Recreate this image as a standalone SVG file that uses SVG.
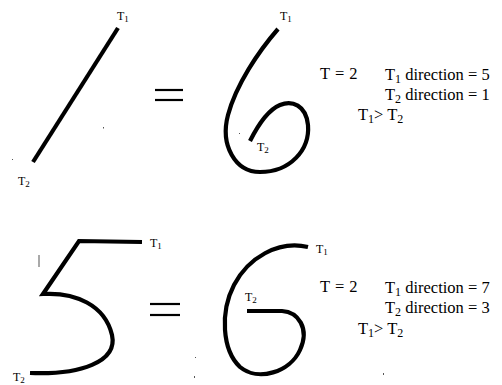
<svg xmlns="http://www.w3.org/2000/svg" width="502" height="385" viewBox="0 0 502 385">
<style>
.stroke{fill:none;stroke:#000;stroke-width:4.2;stroke-linecap:butt;stroke-linejoin:miter}
.eq{stroke:#000;stroke-width:2.2}
.lbl{font-family:"Liberation Serif","Times New Roman",serif;font-size:12px;fill:#000}
.txt{font-family:"Liberation Serif","Times New Roman",serif;font-size:16.5px;fill:#000}
.noise{fill:#555}
</style>
<rect width="502" height="385" fill="#fff"/>
<g id="digit-1">
  <path class="stroke" d="M118,28 L33,162"/>
  <text class="lbl" x="117" y="20">T<tspan dy="2" font-size="9">1</tspan></text>
  <text class="lbl" x="18" y="185">T<tspan dy="2" font-size="9">2</tspan></text>
</g>
<g id="equals-top">
  <line class="eq" x1="155" y1="90" x2="183" y2="90"/>
  <line class="eq" x1="155" y1="100" x2="183" y2="100"/>
</g>
<g id="digit-6-top">
  <path class="stroke" d="M278,29 C258,52 236,85 228,115 C220,145 235,172 260,172 C290,172 310,150 308,125 C306,105 292,100 280,105 C268,110 258,125 250,141"/>
  <text class="lbl" x="280" y="20">T<tspan dy="2" font-size="9">1</tspan></text>
  <text class="lbl" x="257" y="151">T<tspan dy="2" font-size="9">2</tspan></text>
</g>
<g id="text-top">
  <text class="txt" x="320" y="79" word-spacing="1">T = 2</text>
  <text class="txt" x="385" y="80">T<tspan dy="3" font-size="12">1</tspan><tspan dy="-3"> direction = 5</tspan></text>
  <text class="txt" x="385" y="100">T<tspan dy="3" font-size="12">2</tspan><tspan dy="-3"> direction = 1</tspan></text>
  <text class="txt" x="358" y="120">T<tspan dy="3" font-size="12">1</tspan><tspan dy="-3">&gt; T</tspan><tspan dy="3" font-size="12">2</tspan></text>
</g>
<g id="digit-5">
  <path class="stroke" d="M142,242 L79,241 L43,294 C75,292 105,305 112,335 C118,362 80,375 30,373"/>
  <text class="lbl" x="150" y="247">T<tspan dy="2" font-size="9">1</tspan></text>
  <text class="lbl" x="13" y="381">T<tspan dy="2" font-size="9">2</tspan></text>
</g>
<g id="equals-bottom">
  <line class="eq" x1="150" y1="304" x2="180" y2="304"/>
  <line class="eq" x1="150" y1="315" x2="180" y2="315"/>
</g>
<g id="digit-6-bottom">
  <path class="stroke" d="M308,247 C278,240 248,258 234,285 C220,312 222,350 240,367 C258,382 290,372 300,350 C310,328 298,312 282,311 L247,311"/>
  <text class="lbl" x="316" y="253">T<tspan dy="2" font-size="9">1</tspan></text>
  <text class="lbl" x="245" y="301">T<tspan dy="2" font-size="9">2</tspan></text>
</g>
<g id="text-bottom">
  <text class="txt" x="320" y="292" word-spacing="1">T = 2</text>
  <text class="txt" x="385" y="293">T<tspan dy="3" font-size="12">1</tspan><tspan dy="-3"> direction = 7</tspan></text>
  <text class="txt" x="385" y="313">T<tspan dy="3" font-size="12">2</tspan><tspan dy="-3"> direction = 3</tspan></text>
  <text class="txt" x="358" y="334">T<tspan dy="3" font-size="12">1</tspan><tspan dy="-3">&gt; T</tspan><tspan dy="3" font-size="12">2</tspan></text>
</g>
<g id="noise">
  <rect class="noise" x="38.5" y="255" width="1" height="12"/>
  <rect class="noise" x="103" y="127" width="1" height="1.5"/>
  <rect class="noise" x="12" y="159" width="1" height="1"/>
  <rect class="noise" x="239" y="133" width="1" height="1"/>
  <rect class="noise" x="194" y="376" width="1" height="2"/>
  <rect class="noise" x="383" y="373" width="1" height="2"/>
  <rect class="noise" x="195" y="357" width="1" height="1"/>
</g>
</svg>
